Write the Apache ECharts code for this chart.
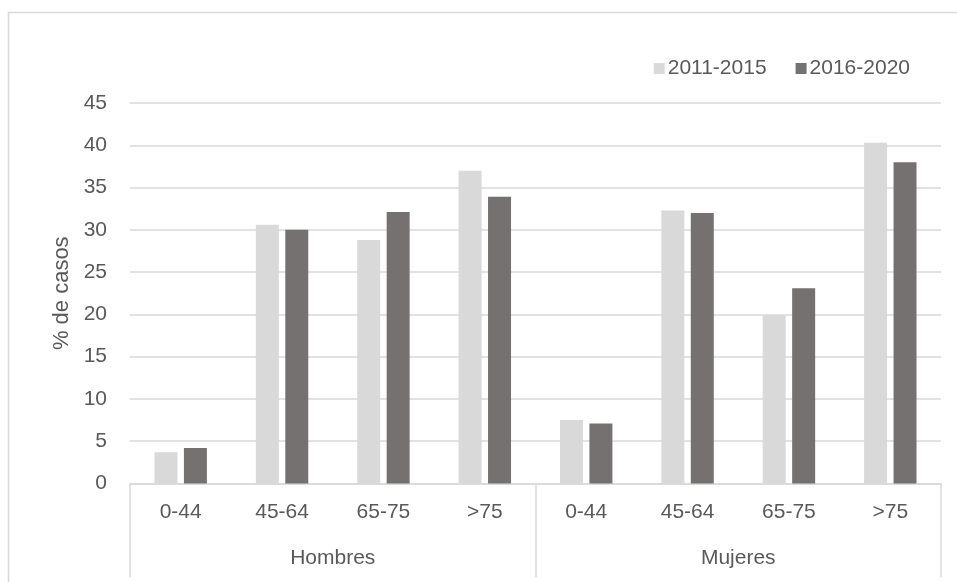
<!DOCTYPE html>
<html>
<head>
<meta charset="utf-8">
<script src="https://cdn.jsdelivr.net/npm/echarts@6/dist/echarts.min.js"></script>
<style>
  html, body { margin: 0; padding: 0; background: #fff; }
  #chart { width: 957px; height: 582px; }
</style>
</head>
<body>
<div id="chart"></div>
<script>
// Age bands repeated for each sex, and the two sex groups below them
const ageBands = ['0-44', '45-64', '65-75', '>75', '0-44', '45-64', '65-75', '>75'];
const groups = ['Hombres', 'Mujeres'];
const seriesNames = ['2011-2015', '2016-2020'];

// % of cases per age band (Hombres first, then Mujeres)
const period2011_2015 = [3.7, 30.6, 28.8, 37.0, 7.5, 32.3, 19.9, 40.3];
const period2016_2020 = [4.2, 30.0, 32.1, 33.9, 7.1, 32.0, 23.1, 38.0];

const yTicks = [0, 5, 10, 15, 20, 25, 30, 35, 40, 45];

const FONT = '"Liberation Sans", Arial, sans-serif';
const FS = 21;
const TEXT = '#595959';
const GRID = '#d9d9d9';

const chart = echarts.init(document.getElementById('chart'), null, { renderer: 'canvas' });

chart.setOption({
  backgroundColor: '#ffffff',
  animation: false,
  textStyle: { fontFamily: FONT, color: TEXT },
  graphic: [{
    type: 'rect',
    shape: { x: 8.5, y: 12.5, width: 1000, height: 700 },
    style: { fill: 'none', stroke: GRID, lineWidth: 1.5 },
    silent: true,
    z: -10
  }],
  legend: {
    data: seriesNames,
    right: 42,
    top: 53,
    itemWidth: 11,
    itemHeight: 11,
    itemGap: 29,
    icon: 'rect',
    textStyle: { fontFamily: FONT, fontSize: FS, color: TEXT, padding: [0, 0, 0, -2] }
  },
  grid: { left: 130, right: 16, top: 103, bottom: 98.5, containLabel: false },
  xAxis: [
    {
      type: 'category',
      data: ageBands,
      position: 'bottom',
      axisLine: { show: false },
      axisTick: { show: false },
      axisLabel: { fontFamily: FONT, fontSize: FS, color: TEXT, margin: 18 }
    },
    {
      type: 'category',
      data: groups,
      position: 'bottom',
      axisLine: { show: true, lineStyle: { color: GRID, width: 1.5 } },
      axisTick: { show: true, length: 94, lineStyle: { color: GRID, width: 1.5 } },
      axisLabel: { fontFamily: FONT, fontSize: FS, color: TEXT, margin: 64 }
    }
  ],
  yAxis: {
    type: 'value',
    min: yTicks[0],
    max: yTicks[yTicks.length - 1],
    interval: 5,
    name: '% de casos',
    nameLocation: 'middle',
    nameGap: 57,
    nameTextStyle: { fontFamily: FONT, fontSize: 22, color: TEXT },
    axisLine: { show: false },
    axisTick: { show: false },
    axisLabel: { fontFamily: FONT, fontSize: FS, color: TEXT, margin: 23 },
    splitLine: { lineStyle: { color: GRID, width: 1.5 } }
  },
  series: [
    {
      name: seriesNames[0],
      type: 'bar',
      xAxisIndex: 0,
      data: period2011_2015,
      barWidth: 23,
      barGap: '28%',
      itemStyle: { color: '#d9d9d9' }
    },
    {
      name: seriesNames[1],
      type: 'bar',
      xAxisIndex: 0,
      data: period2016_2020,
      barWidth: 23,
      barGap: '28%',
      itemStyle: { color: '#767171' }
    }
  ]
});
</script>
</body>
</html>
